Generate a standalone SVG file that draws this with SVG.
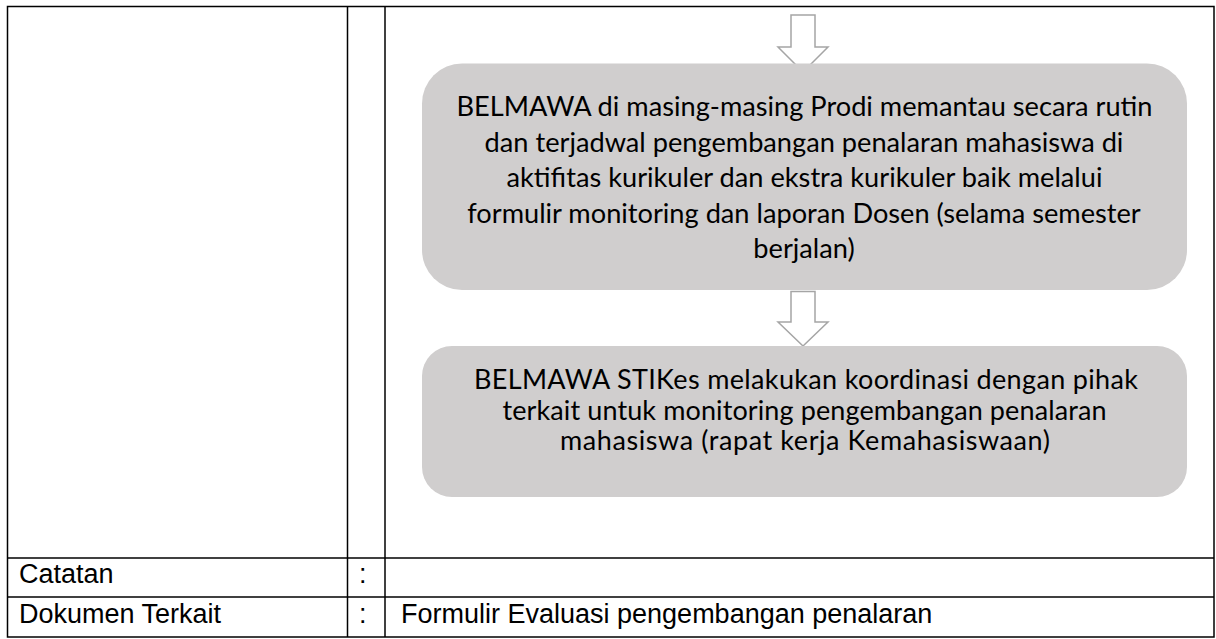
<svg xmlns="http://www.w3.org/2000/svg" width="1216" height="639" viewBox="0 0 1216 639">
<style>
.grid{stroke:#000;stroke-width:1.5;fill:none}
.arrow{fill:#fff;stroke:#a5a5a5;stroke-width:1.5;stroke-linejoin:miter}
.box{fill:#d0cece}
.bt{font-family:Lato,"Open Sans",sans-serif;font-size:27.2px;fill:#000;text-anchor:middle}
.bt2{font-family:Lato,"Open Sans",sans-serif;font-size:27px;fill:#000;text-anchor:middle}
.tt{font-family:"Liberation Sans",Arial,sans-serif;font-size:27px;fill:#000}
</style>
<rect width="1216" height="639" fill="#fff"/>
<g id="table">
<rect class="grid" x="7.5" y="6.5" width="1206.5" height="630.5"/>
<line class="grid" x1="347.5" y1="6.5" x2="347.5" y2="637"/>
<line class="grid" x1="385" y1="6.5" x2="385" y2="637"/>
<line class="grid" x1="7.5" y1="558" x2="1214" y2="558"/>
<line class="grid" x1="7.5" y1="597" x2="1214" y2="597"/>
</g>
<g id="connectors">
<polygon class="arrow" points="791,15 815,15 815,47 828,47 803,72 778,47 791,47"/>
<polygon class="arrow" points="791,291.5 815,291.5 815,322 828,322 803,346 778,322 791,322"/>
</g>
<g id="box1">
<rect class="box" x="422" y="63.5" width="765" height="226.5" rx="40" ry="40"/>
<text class="bt" x="804.5" y="116">BELMAWA di masing-masing Prodi memantau secara rutin</text>
<text class="bt" x="804" y="151.5">dan terjadwal pengembangan penalaran mahasiswa di</text>
<text class="bt" x="804.5" y="187">aktifitas kurikuler dan ekstra kurikuler baik melalui</text>
<text class="bt" x="804" y="222.5">formulir monitoring dan laporan Dosen (selama semester</text>
<text class="bt" x="804" y="258">berjalan)</text>
</g>
<g id="box2">
<rect class="box" x="422" y="346" width="765" height="151" rx="30" ry="30"/>
<text class="bt2" x="806" y="389" textLength="664">BELMAWA STIKes melakukan koordinasi dengan pihak</text>
<text class="bt2" x="804.5" y="419.5" textLength="604">terkait untuk monitoring pengembangan penalaran</text>
<text class="bt2" x="805" y="450" textLength="490">mahasiswa (rapat kerja Kemahasiswaan)</text>
</g>
<g id="catatan">
<text class="tt" x="19" y="583">Catatan</text>
<text class="tt" x="359" y="583">:</text>
</g>
<g id="dokumen">
<text class="tt" x="19" y="623">Dokumen Terkait</text>
<text class="tt" x="359" y="623">:</text>
<text class="tt" x="401" y="623">Formulir Evaluasi pengembangan penalaran</text>
</g>
</svg>
